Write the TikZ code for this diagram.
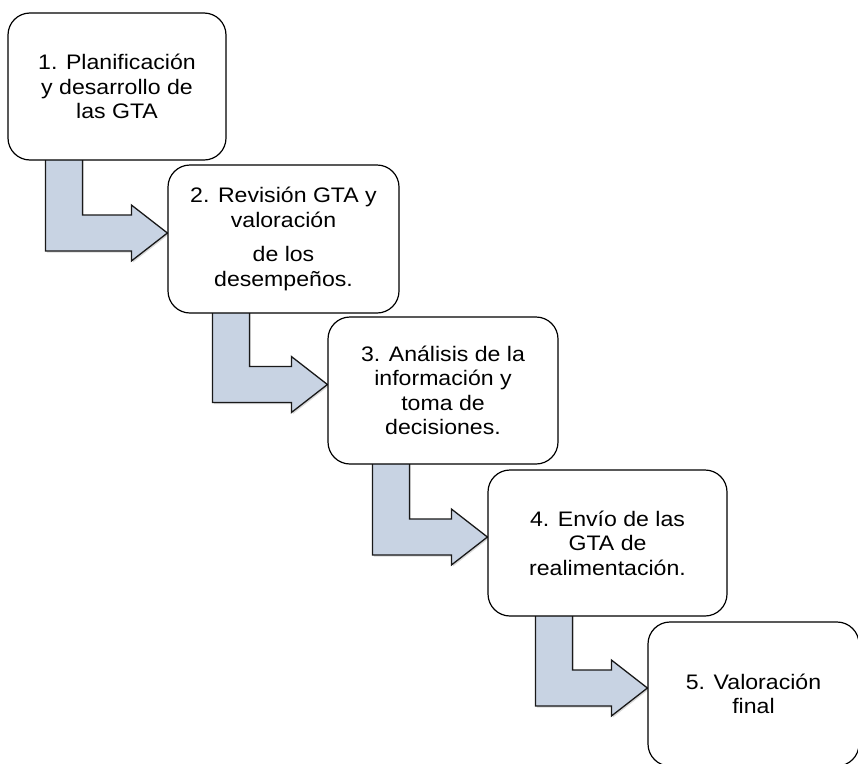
\documentclass[tikz,border=0pt]{standalone}
\usepackage{fontspec}
\setmainfont{Liberation Sans}[FakeStretch=1.1]
\usetikzlibrary{calc,backgrounds,shadows}
\definecolor{azulflecha}{RGB}{200,211,227}

\begin{document}
\begin{tikzpicture}[x=1pt, y=-1pt,
    caja/.style={draw, fill=white, line width=1.2pt, rounded corners=22pt,
        align=center, inner sep=0pt, font=\fontsize{21}{24.5}\selectfont},
    flecha/.style={draw=black!90, fill=azulflecha, line width=1.3pt,
        drop shadow={opacity=0.3, shadow xshift=1.5pt, shadow yshift=-1.5pt}}]
    \useasboundingbox (0,0) rectangle (858,763);

    \node[caja, minimum width=218, minimum height=147] (P1) at (117,86.5)
        {1. Planificación\\ y desarrollo de\\ las GTA};
    \node[caja, minimum width=231, minimum height=148] (P2) at (283.5,239)
        {2. Revisión GTA y\\ valoración\\[10pt] de los\\ desempeños.};
    \node[caja, minimum width=230, minimum height=147] (P3) at (443,390.5)
        {3. Análisis de la\\ información y\\ toma de\\ decisiones.};
    \node[caja, minimum width=239, minimum height=146] (P4) at (607.5,543)
        {4. Envío de las\\ GTA de\\ realimentación.};
    \node[caja, minimum width=211, minimum height=144] (P5) at (753.5,694)
        {5. Valoración\\ final};

    % flechas en L entre los pasos
    \begin{scope}[on background layer]
    \foreach \a/\b/\d in {P1/P2/38, P2/P3/45, P3/P4/45, P4/P5/48}
        \draw[flecha] ($(\a.south west)+(\d,-8)$) -- ++(37,0)
            |- ($(\b.west)+(-36,-24)$) -- ++(0,-10) -- ($(\b.west)+(0,-6)$)
            -- ++(-36,28) -- ++(0,-10) -| ($(\a.south west)+(\d,-8)$) -- cycle;
    \end{scope}
\end{tikzpicture}
\end{document}
